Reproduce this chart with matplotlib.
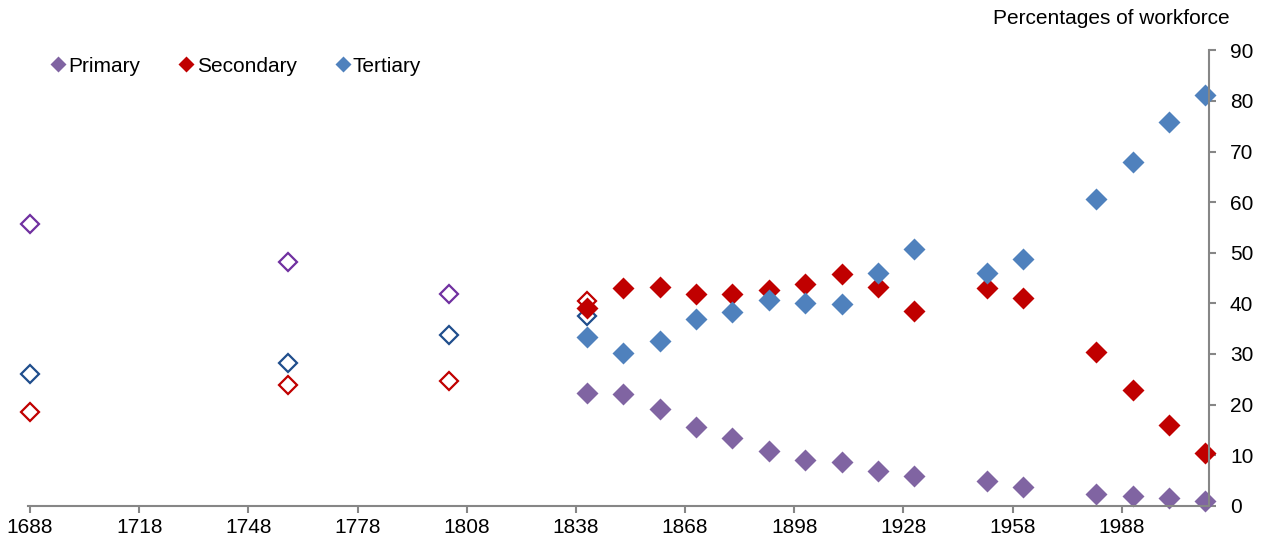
import matplotlib
matplotlib.use("Agg")
import matplotlib.pyplot as plt

plt.rcParams["font.family"] = ["Liberation Sans", "DejaVu Sans"]

# early estimates (hollow markers)
early_years = [1688, 1759, 1803]
early_primary = [55.7, 48.1, 41.8]
early_years_2 = [1688, 1759, 1803, 1841]
early_secondary = [18.6, 23.8, 24.7, 40.5]
early_tertiary = [26.0, 28.3, 33.7, 37.4]

# census years (filled markers)
census_years = [1841, 1851, 1861, 1871, 1881, 1891, 1901, 1911, 1921, 1931,
                1951, 1961, 1981, 1991, 2001, 2011]
primary = [22.3, 22.0, 19.1, 15.6, 13.4, 10.8, 9.0, 8.6, 6.9, 5.9,
           4.8, 3.6, 2.3, 1.9, 1.5, 0.9]
secondary = [39.0, 43.0, 43.3, 41.8, 41.8, 42.6, 43.9, 45.7, 43.3, 38.5,
             43.1, 41.1, 30.4, 22.9, 16.0, 10.4]
tertiary = [33.4, 30.1, 32.5, 36.8, 38.3, 40.7, 40.0, 39.9, 46.0, 50.7,
            45.9, 48.8, 60.6, 68.0, 75.8, 81.2]

x_ticks = list(range(1688, 2000, 30))
y_ticks = list(range(0, 91, 10))

c_pri, c_sec, c_ter = "#8064A2", "#C00000", "#4F81BD"
h_pri, h_sec, h_ter = "#7030A0", "#C00000", "#1F4E8C"

fig = plt.figure(figsize=(12.63, 5.45), dpi=100)
ax = fig.add_axes([0.0224, 0.0721, 0.9349, 0.8356])

ms = 11
# hollow markers first
kw_h = dict(ms=ms - 1.5, mfc="white", mew=1.6, clip_on=False, ls="none")
ax.plot(early_years, early_primary, "D", mec=h_pri, **kw_h)
ax.plot(early_years_2, early_tertiary, "D", mec=h_ter, **kw_h)
ax.plot(early_years_2, early_secondary, "D", mec=h_sec, **kw_h)

kw_f = dict(ms=ms, mec="none", clip_on=False, ls="none")
ax.plot(census_years, primary, "D", color=c_pri, label="Primary", **kw_f)
ax.plot(census_years, secondary, "D", color=c_sec, label="Secondary", **kw_f)
ax.plot(census_years, tertiary, "D", color=c_ter, label="Tertiary", **kw_f)

ax.set_xlim(1687.5, 2012)
ax.set_ylim(0, 90)
ax.set_xticks(x_ticks)
ax.set_yticks(y_ticks)

for s in ["left", "top"]:
    ax.spines[s].set_visible(False)
for s in ["bottom", "right"]:
    ax.spines[s].set_color("#868686")
    ax.spines[s].set_linewidth(1.5)

ax.yaxis.tick_right()
ax.tick_params(axis="both", colors="#868686", width=1.5, length=5,
               labelcolor="black", labelsize=15)
ax.tick_params(axis="y", pad=10)
ax.tick_params(axis="x", pad=4)

fig.text(1230 / 1263, 1 - 18 / 545, "Percentages of workforce",
         ha="right", va="center", fontsize=15)

ax.legend(loc="upper left", bbox_to_anchor=(0.0005, 1.027), ncol=3, frameon=False,
          fontsize=15, markerscale=0.72, handletextpad=0.0, columnspacing=1.7,
          handlelength=1.0)

fig.savefig("out.png", dpi=100)
